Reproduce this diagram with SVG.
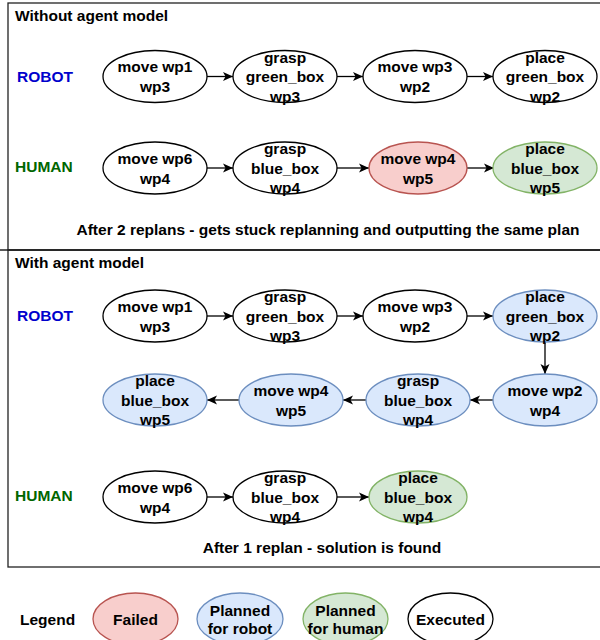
<svg xmlns="http://www.w3.org/2000/svg" width="600" height="640" viewBox="0 0 600 640">
<defs>
<marker id="arr" viewBox="0 0 10 10" refX="10" refY="5" markerWidth="11" markerHeight="10" markerUnits="userSpaceOnUse" orient="auto">
<path d="M0,0.5 L10,5 L0,9.5 L2.5,5 Z" fill="#000"/>
</marker>
<style>
text{font-family:"Liberation Sans",Arial,Helvetica,sans-serif;font-weight:bold;font-size:15.5px;fill:#000}
.c{text-anchor:middle}
.robot{fill:#0000CC}
.human{fill:#006600}
.ex{fill:#fff;stroke:#000;stroke-width:1.3}
.fail{fill:#f8cecc;stroke:#b85450;stroke-width:1.3}
.pr{fill:#dae8fc;stroke:#6c8ebf;stroke-width:1.3}
.ph{fill:#d5e8d4;stroke:#82b366;stroke-width:1.3}
.frame{fill:none;stroke:#222;stroke-width:1.3}
.edge{stroke:#000;stroke-width:1.3;fill:none;marker-end:url(#arr)}
</style>
</defs>
<rect class="frame" x="8" y="3" width="600" height="247"/>
<rect class="frame" x="8" y="250" width="600" height="317"/>
<line x1="0" y1="250" x2="600" y2="250" stroke="#222" stroke-width="1.3"/>
<text x="15" y="21">Without agent model</text>
<text x="15" y="268">With agent model</text>
<text class="robot" x="17" y="82">ROBOT</text>
<text class="human" x="15" y="171.5">HUMAN</text>
<text class="robot" x="17" y="320.5">ROBOT</text>
<text class="human" x="15" y="500.5">HUMAN</text>
<text class="c" x="328" y="235">After 2 replans - gets stuck replanning and outputting the same plan</text>
<text class="c" x="322" y="553">After 1 replan - solution is found</text>

<g id="edges">
<line class="edge" x1="207" y1="76.5" x2="233" y2="76.5"/>
<line class="edge" x1="337" y1="76.5" x2="363" y2="76.5"/>
<line class="edge" x1="467" y1="76.5" x2="493" y2="76.5"/>
<line class="edge" x1="207" y1="168" x2="233" y2="168"/>
<line class="edge" x1="337" y1="168" x2="369" y2="168"/>
<line class="edge" x1="467" y1="168" x2="494" y2="168"/>
<line class="edge" x1="207" y1="316" x2="233" y2="316"/>
<line class="edge" x1="337" y1="316" x2="363" y2="316"/>
<line class="edge" x1="467" y1="316" x2="493" y2="316"/>
<line class="edge" x1="545" y1="342" x2="545" y2="374"/>
<line class="edge" x1="493" y1="400" x2="470" y2="400"/>
<line class="edge" x1="366" y1="400" x2="343" y2="400"/>
<line class="edge" x1="239" y1="400" x2="207" y2="400"/>
<line class="edge" x1="207" y1="497" x2="233" y2="497"/>
<line class="edge" x1="337" y1="497" x2="369" y2="497"/>
</g>

<g id="a1"><ellipse class="ex" cx="155" cy="76.5" rx="52" ry="26"/><text class="c" x="155" y="72">move wp1</text><text class="c" x="155" y="92">wp3</text></g>
<g id="a2"><ellipse class="ex" cx="285" cy="76.5" rx="52" ry="26"/><text class="c" x="285" y="62.5">grasp</text><text class="c" x="285" y="82">green_box</text><text class="c" x="285" y="101.5">wp3</text></g>
<g id="a3"><ellipse class="ex" cx="415" cy="76.5" rx="52" ry="26"/><text class="c" x="415" y="72">move wp3</text><text class="c" x="415" y="92">wp2</text></g>
<g id="a4"><ellipse class="ex" cx="545" cy="76.5" rx="52" ry="26"/><text class="c" x="545" y="62.5">place</text><text class="c" x="545" y="82">green_box</text><text class="c" x="545" y="101.5">wp2</text></g>

<g id="b1"><ellipse class="ex" cx="155" cy="168" rx="52" ry="26"/><text class="c" x="155" y="163.5">move wp6</text><text class="c" x="155" y="183.5">wp4</text></g>
<g id="b2"><ellipse class="ex" cx="285" cy="168" rx="52" ry="26"/><text class="c" x="285" y="154">grasp</text><text class="c" x="285" y="173.5">blue_box</text><text class="c" x="285" y="193">wp4</text></g>
<g id="b3"><ellipse class="fail" cx="418" cy="168" rx="49" ry="26"/><text class="c" x="418" y="163.5">move wp4</text><text class="c" x="418" y="183.5">wp5</text></g>
<g id="b4"><ellipse class="ph" cx="545" cy="168" rx="52" ry="26"/><text class="c" x="545" y="154">place</text><text class="c" x="545" y="173.5">blue_box</text><text class="c" x="545" y="193">wp5</text></g>

<g id="c1"><ellipse class="ex" cx="155" cy="316" rx="52" ry="26"/><text class="c" x="155" y="311.5">move wp1</text><text class="c" x="155" y="331.5">wp3</text></g>
<g id="c2"><ellipse class="ex" cx="285" cy="316" rx="52" ry="26"/><text class="c" x="285" y="302">grasp</text><text class="c" x="285" y="321.5">green_box</text><text class="c" x="285" y="341">wp3</text></g>
<g id="c3"><ellipse class="ex" cx="415" cy="316" rx="52" ry="26"/><text class="c" x="415" y="311.5">move wp3</text><text class="c" x="415" y="331.5">wp2</text></g>
<g id="c4"><ellipse class="pr" cx="545" cy="316" rx="52" ry="26"/><text class="c" x="545" y="302">place</text><text class="c" x="545" y="321.5">green_box</text><text class="c" x="545" y="341">wp2</text></g>

<g id="d1"><ellipse class="pr" cx="545" cy="400" rx="52" ry="26"/><text class="c" x="545" y="395.5">move wp2</text><text class="c" x="545" y="415.5">wp4</text></g>
<g id="d2"><ellipse class="pr" cx="418" cy="400" rx="52" ry="26"/><text class="c" x="418" y="386">grasp</text><text class="c" x="418" y="405.5">blue_box</text><text class="c" x="418" y="425">wp4</text></g>
<g id="d3"><ellipse class="pr" cx="291" cy="400" rx="52" ry="26"/><text class="c" x="291" y="395.5">move wp4</text><text class="c" x="291" y="415.5">wp5</text></g>
<g id="d4"><ellipse class="pr" cx="155" cy="400" rx="52" ry="26"/><text class="c" x="155" y="386">place</text><text class="c" x="155" y="405.5">blue_box</text><text class="c" x="155" y="425">wp5</text></g>

<g id="e1"><ellipse class="ex" cx="155" cy="497" rx="52" ry="26"/><text class="c" x="155" y="492.5">move wp6</text><text class="c" x="155" y="512.5">wp4</text></g>
<g id="e2"><ellipse class="ex" cx="285" cy="497" rx="52" ry="26"/><text class="c" x="285" y="483">grasp</text><text class="c" x="285" y="502.5">blue_box</text><text class="c" x="285" y="522">wp4</text></g>
<g id="e3"><ellipse class="ph" cx="418" cy="497" rx="49" ry="26"/><text class="c" x="418" y="483">place</text><text class="c" x="418" y="502.5">blue_box</text><text class="c" x="418" y="522">wp4</text></g>

<g id="legend">
<text x="20" y="624.5">Legend</text>
<ellipse class="fail" cx="135.5" cy="619" rx="42.5" ry="26"/><text class="c" x="135.5" y="624.5">Failed</text>
<ellipse class="pr" cx="240" cy="619" rx="43" ry="26"/><text class="c" x="240" y="615.5">Planned</text><text class="c" x="240" y="633.5">for robot</text>
<ellipse class="ph" cx="345.5" cy="619" rx="42.5" ry="26"/><text class="c" x="345.5" y="615.5">Planned</text><text class="c" x="345.5" y="633.5">for human</text>
<ellipse class="ex" cx="450.5" cy="619" rx="42.5" ry="26"/><text class="c" x="450.5" y="624.5">Executed</text>
</g>
</svg>
